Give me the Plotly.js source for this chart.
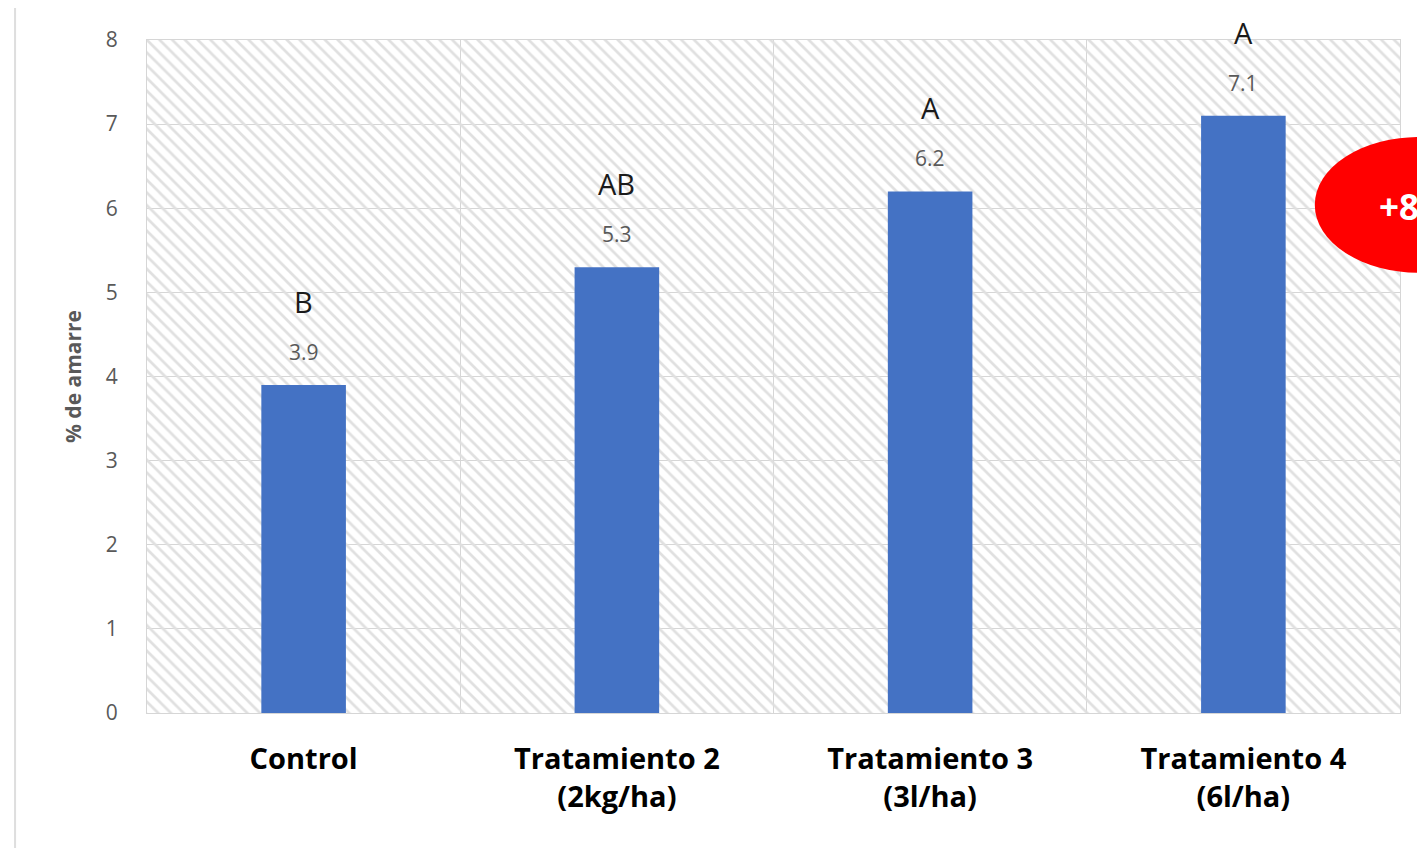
<!DOCTYPE html>
<html>
<head>
<meta charset="utf-8">
<script src="https://cdn.plot.ly/plotly-3.0.1.min.js"></script>
<style>
  html, body { margin: 0; padding: 0; background: #ffffff; overflow: hidden; }
  #chart { width: 1417px; height: 848px; }
</style>
</head>
<body>
<div id="chart"></div>
<script>
// Fruit set (% de amarre) per treatment
const categories = ['Control', 'Tratamiento 2', 'Tratamiento 3', 'Tratamiento 4'];
const tickLabels = ['<b>Control</b>', '<b>Tratamiento 2</b><br><b>(2kg/ha)</b>',
                    '<b>Tratamiento 3</b><br><b>(3l/ha)</b>', '<b>Tratamiento 4</b><br><b>(6l/ha)</b>'];
const values = [3.9, 5.3, 6.2, 7.1];
const letters = ['B', 'AB', 'A', 'A'];
const yMax = 8;
const badgeText = '+82%';

// Hatched background band behind every category
const hatch = {
  type: 'bar',
  x: categories,
  y: categories.map(() => yMax),
  width: 1,
  marker: {
    color: 'rgba(0,0,0,0)',
    line: { width: 0 },
    pattern: { shape: '\\', fgcolor: '#e0e0e0', bgcolor: 'rgba(0,0,0,0)', size: 9, solidity: 0.3 }
  },
  hoverinfo: 'skip',
  showlegend: false
};

const bars = {
  type: 'bar',
  x: categories,
  y: values,
  width: 0.27,
  marker: { color: '#4472c4', line: { width: 0 } },
  showlegend: false
};

const annotations = [];
values.forEach((v, i) => {
  annotations.push({
    x: categories[i], y: v, xref: 'x', yref: 'y',
    text: v.toFixed(1), showarrow: false, yanchor: 'bottom', yshift: 17,
    font: { family: 'Open Sans', size: 21, color: '#595959' }
  });
  annotations.push({
    x: categories[i], y: v, xref: 'x', yref: 'y',
    text: letters[i], showarrow: false, yanchor: 'bottom', yshift: 62,
    font: { family: 'Open Sans', size: 29, color: '#1a1a1a' }
  });
});
annotations.push({
  x: 0.9817, y: 0.752, xref: 'paper', yref: 'paper',
  text: '<b>' + badgeText + '</b>', showarrow: false, xanchor: 'left', yanchor: 'middle',
  font: { family: 'Open Sans', size: 35, color: '#ffffff' }
});

const layout = {
  width: 1417, height: 848,
  margin: { l: 147, r: 17, t: 40, b: 135 },
  paper_bgcolor: '#ffffff',
  plot_bgcolor: '#ffffff',
  barmode: 'overlay',
  xaxis: {
    type: 'category',
    tickvals: categories,
    ticktext: tickLabels,
    tickson: 'boundaries',
    ticks: '',
    showgrid: true,
    gridcolor: '#d6d6d6',
    gridwidth: 1,
    showline: true, mirror: true, linecolor: '#d6d6d6', linewidth: 1,
    tickfont: { family: 'Open Sans', size: 29, color: '#000000' },
    ticklabelstandoff: 20,
    zeroline: false
  },
  yaxis: {
    range: [0, yMax],
    dtick: 1,
    showgrid: true,
    gridcolor: '#d6d6d6',
    showline: true, mirror: true, linecolor: '#d6d6d6', linewidth: 1,
    zeroline: false,
    ticks: '',
    ticklabelstandoff: 24,
    tickfont: { family: 'Open Sans', size: 21, color: '#595959' },
    title: { text: '<b>% de amarre</b>', standoff: 18, font: { family: 'Open Sans', size: 21, color: '#595959' } }
  },
  shapes: [
    { type: 'line', xref: 'paper', yref: 'paper', x0: -0.1053, x1: -0.1053, y0: 1.0475, y1: -0.2006,
      line: { color: '#dedede', width: 2 } },
    { type: 'circle', xref: 'paper', yref: 'paper', x0: 0.932, x1: 1.0998, y0: 0.654, y1: 0.856,
      fillcolor: '#ff0000', line: { width: 0 }, layer: 'above' }
  ],
  annotations: annotations
};

Plotly.newPlot('chart', [hatch, bars], layout, { displayModeBar: false, staticPlot: true });
</script>
</body>
</html>
